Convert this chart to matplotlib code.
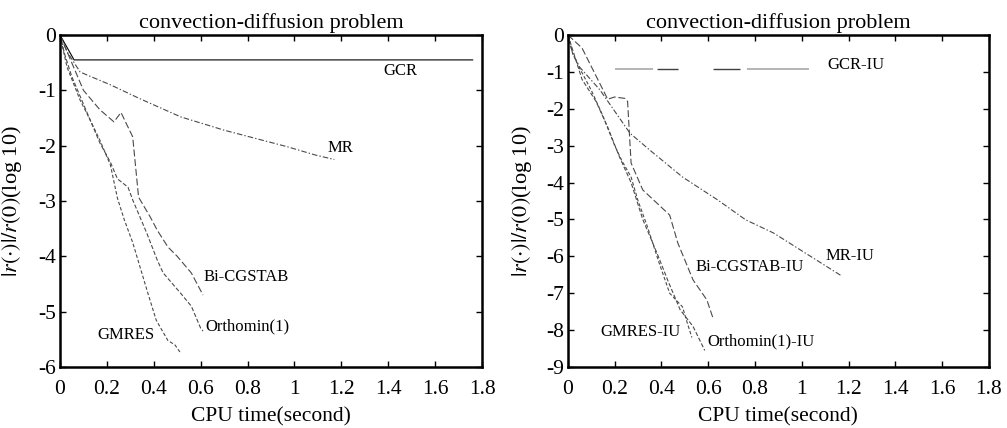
import numpy as np
import matplotlib
matplotlib.use("Agg")
import matplotlib.pyplot as plt
from matplotlib.ticker import FixedLocator, FuncFormatter

plt.rcParams['font.family'] = ['Liberation Serif', 'DejaVu Serif']
plt.rcParams['mathtext.fontset'] = 'stix'
plt.rcParams['axes.unicode_minus'] = False
plt.rcParams['lines.scale_dashes'] = False

# ---------------- left panel: original methods ----------------
gcr_x = [0, 0.06, 1.76]
gcr_y = [0, -0.45, -0.45]

mr_x = [0, 0.03, 0.086, 0.215, 0.34, 0.515, 0.7, 0.97, 1.09, 1.17]
mr_y = [0, -0.3, -0.67, -0.9, -1.15, -1.48, -1.72, -2.02, -2.17, -2.25]

bicg_x = [0, 0.03, 0.1, 0.17, 0.23, 0.26, 0.31, 0.335, 0.385, 0.415, 0.46, 0.5, 0.56, 0.61]
bicg_y = [0, -0.3, -1.0, -1.35, -1.57, -1.4, -1.84, -2.93, -3.29, -3.53, -3.83, -4.0, -4.3, -4.7]

orth_x = [0, 0.02, 0.05, 0.09, 0.12, 0.17, 0.215, 0.245, 0.29, 0.31, 0.37, 0.415, 0.44, 0.515, 0.56, 0.6, 0.61]
orth_y = [0, -0.35, -0.75, -1.15, -1.45, -1.95, -2.3, -2.6, -2.75, -2.98, -3.58, -4.07, -4.3, -4.67, -4.9, -5.3, -5.35]

gmres_x = [0, 0.01, 0.03, 0.086, 0.115, 0.17, 0.215, 0.245, 0.275, 0.31, 0.37, 0.41, 0.43, 0.46, 0.49, 0.515]
gmres_y = [0, -0.2, -0.58, -1.18, -1.42, -1.9, -2.35, -2.95, -3.35, -3.75, -4.6, -5.15, -5.3, -5.52, -5.6, -5.75]

# ---------------- right panel: IU variants ----------------
gcriu_x = [0.2, 1.03]
gcriu_y = [-0.93, -0.93]

mriu_x = [0, 0.02, 0.05, 0.137, 0.265, 0.35, 0.49, 0.64, 0.76, 0.88, 1.0, 1.17]
mriu_y = [0, -0.5, -0.87, -1.49, -2.66, -3.12, -3.85, -4.47, -5.01, -5.37, -5.85, -6.53]

bicgiu_x = [0, 0.06, 0.17, 0.2, 0.245, 0.255, 0.27, 0.32, 0.435, 0.47, 0.535, 0.594, 0.62]
bicgiu_y = [0, -0.35, -1.74, -1.68, -1.72, -1.8, -3.47, -4.2, -4.88, -5.64, -6.64, -7.18, -7.67]

gmresiu_x = [0, 0.02, 0.05, 0.1, 0.15, 0.2, 0.23, 0.27, 0.3, 0.34, 0.39, 0.435, 0.49, 0.51, 0.53]
gmresiu_y = [0, -0.5, -0.9, -1.5, -2.2, -3.0, -3.4, -3.85, -4.5, -5.2, -6.18, -7.0, -7.37, -7.8, -8.2]

orthiu_x = [0, 0.03, 0.06, 0.12, 0.17, 0.22, 0.27, 0.32, 0.38, 0.43, 0.48, 0.535, 0.585]
orthiu_y = [0, -0.6, -1.2, -1.8, -2.5, -3.3, -4.0, -5.0, -5.9, -6.7, -7.45, -7.9, -8.55]

xticks = [0, 0.2, 0.4, 0.6, 0.8, 1.0, 1.2, 1.4, 1.6, 1.8]

fig = plt.figure(figsize=(10.07, 4.28), dpi=100)
ax1 = fig.add_axes([0.0596, 0.1425, 0.4191, 0.7757])
ax2 = fig.add_axes([0.564, 0.1425, 0.418, 0.7757])

c = '#4a4a4a'
lw = 0.8

# left
ax1.plot(gcr_x, gcr_y, color='black', lw=lw)
ax1.plot(mr_x, mr_y, color=c, lw=lw, ls=(0, (4, 1.5, 1, 1.5)))
ax1.plot(bicg_x, bicg_y, color=c, lw=lw, ls=(0, (5, 2)))
ax1.plot(orth_x, orth_y, color=c, lw=lw, ls=(0, (3, 1.5)))
ax1.plot(gmres_x, gmres_y, color=c, lw=lw, ls=(0, (2.5, 1.5)))

ax1.text(1.38, -0.65, 'GCR', fontsize=12, va='center')
ax1.text(1.14, -2.05, 'MR', fontsize=12, va='center')
ax1.text(0.61, -4.38, 'Bi-CGSTAB', fontsize=12, va='center')
ax1.text(0.62, -5.26, 'Orthomin(1)', fontsize=12, va='center')
ax1.text(0.16, -5.42, 'GMRES', fontsize=12, va='center')

# right
ax2.plot(gcriu_x, gcriu_y, color='#a8a8a8', lw=1.2, ls=(0, (27.4, 67.6, 44, 0.01)))
ax2.plot(gcriu_x, gcriu_y, color='#404040', lw=1.0, ls=(108.7, (15.1, 25.2, 19.4, 79.3)))
ax2.plot(mriu_x, mriu_y, color=c, lw=lw, ls=(0, (4, 1.5, 1, 1.5)))
ax2.plot(bicgiu_x, bicgiu_y, color=c, lw=lw, ls=(0, (5, 2)))
ax2.plot(gmresiu_x, gmresiu_y, color=c, lw=lw, ls=(0, (2.5, 1.5)))
ax2.plot(orthiu_x, orthiu_y, color=c, lw=lw, ls=(0, (3, 1.5)))

ax2.text(1.11, -0.81, 'GCR-IU', fontsize=12, va='center')
ax2.text(1.1, -6.0, 'MR-IU', fontsize=12, va='center')
ax2.text(0.545, -6.3, 'Bi-CGSTAB-IU', fontsize=12, va='center')
ax2.text(0.14, -8.05, 'GMRES-IU', fontsize=12, va='center')
ax2.text(0.595, -8.3, 'Orthomin(1)-IU', fontsize=12, va='center')

fmt = FuncFormatter(lambda v, p: f'{v:g}')
for ax, ymin, ylx in ((ax1, -6, -0.085), (ax2, -9, -0.081)):
    ax.set_xlim(0, 1.8)
    ax.set_ylim(ymin, 0)
    ax.xaxis.set_major_locator(FixedLocator(xticks))
    ax.xaxis.set_major_formatter(fmt)
    ax.yaxis.set_major_locator(FixedLocator(list(range(ymin, 1))))
    ax.yaxis.set_major_formatter(fmt)
    ax.tick_params(direction='in', top=True, right=True, length=4, width=1,
                   labelsize=15.5, pad=3)
    ax.tick_params(axis='x', pad=9)
    for s in ax.spines.values():
        s.set_linewidth(1.8)
    ax.set_title('convection-diffusion problem', fontsize=16, pad=5)
    ax.set_xlabel('CPU time(second)', fontsize=15.5, labelpad=6)
    ax.set_ylabel(r'$|r(\cdot)|/r(0)$(log 10)', fontsize=16)
    ax.yaxis.set_label_coords(ylx, 0.5)

fig.savefig('out.png', dpi=100)
